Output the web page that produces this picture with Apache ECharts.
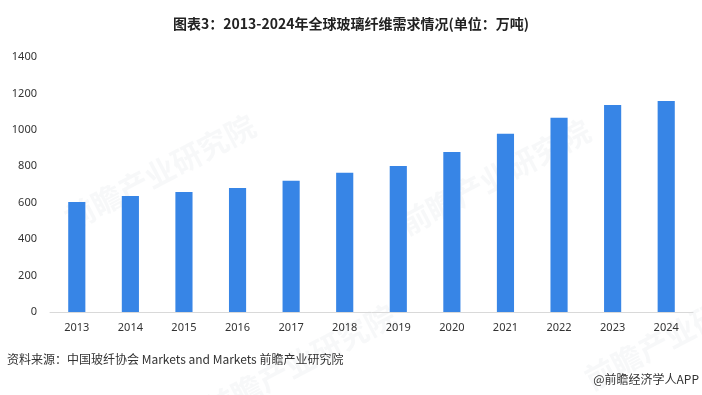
<!DOCTYPE html>
<html><head><meta charset="utf-8">
<script src="https://cdn.jsdelivr.net/npm/echarts@6/dist/echarts.min.js"></script>
<style>html,body{margin:0;padding:0;background:#fff}#c{width:702px;height:395px}</style>
</head><body><div id="c"></div>
<script>
const categories = ['2013','2014','2015','2016','2017','2018','2019','2020','2021','2022','2023','2024'];
const demand = [604, 637, 659, 681, 720, 764, 802, 879, 978, 1066, 1137, 1159];
const yTicks = [0, 200, 400, 600, 800, 1000, 1200, 1400];

const chart = echarts.init(document.getElementById('c'));
const wm = (x, y) => ({
  type: 'text', left: x, top: y, rotation: Math.PI / 6.5, z: 0,
  style: { text: '前瞻产业研究院', fill: 'rgba(200,205,215,0.14)', font: 'bold 30px "Noto Sans CJK SC"' }
});
chart.setOption({
  animation: false,
  title: {
    text: '图表3：2013-2024年全球玻璃纤维需求情况(单位：万吨)',
    left: 'center', top: 12,
    textStyle: { fontFamily: '"Noto Sans CJK SC"', fontWeight: 'bold', fontSize: 14, color: '#222' }
  },
  grid: { left: 50, right: 9, top: 57, bottom: 83 },
  xAxis: {
    type: 'category', data: categories,
    axisLine: { lineStyle: { color: '#d9d9d9', width: 1 } },
    axisTick: { show: false },
    axisLabel: { color: '#333', fontSize: 11, fontFamily: '"Noto Sans"', margin: 10 }
  },
  yAxis: {
    type: 'value', min: yTicks[0], max: yTicks[yTicks.length - 1], interval: 200,
    axisLine: { show: false }, axisTick: { show: false }, splitLine: { show: false },
    axisLabel: { color: '#333', fontSize: 11, fontFamily: '"Noto Sans"', margin: 13, formatter: v => String(v) }
  },
  series: [{
    type: 'bar', data: demand, barWidth: '32%',
    itemStyle: { color: '#3785E6' }
  }],
  graphic: [
    wm(60, 110), wm(395, 115), wm(580, 270), wm(200, 300),
    { type: 'text', left: 7, top: 353, style: { text: '资料来源：中国玻纤协会 Markets and Markets 前瞻产业研究院', fill: '#333', font: '12px "Noto Sans CJK SC"' } },
    { type: 'text', right: 3, top: 373, style: { text: '@前瞻经济学人APP', fill: '#333', font: '12px "Noto Sans CJK SC"' } }
  ]
});
</script></body></html>
